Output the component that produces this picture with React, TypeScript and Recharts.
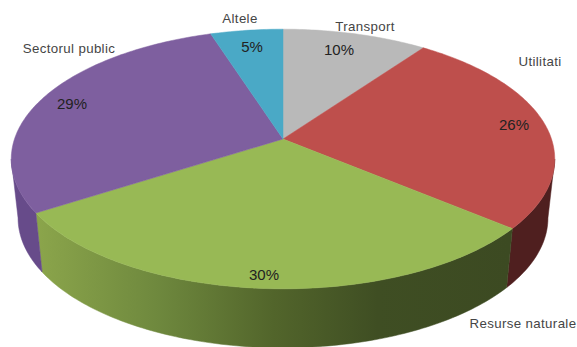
import { Pie, PieChart } from 'recharts';

const sectors = ['Transport', 'Utilitati', 'Resurse naturale', 'Sectorul public', 'Altele'];
const shares = [10, 26, 30, 29, 5];
const topColors = ['#b9b9b9', '#be4f4c', '#98b955', '#7e5f9f', '#4aa9c6'];
const wallColors = ['#8a8a8a', '#4f1f1f', 'url(#greenWall)', '#674b8a', '#38869c'];

// label anchors, same order as sectors: [name x, name y, share x, share y]
const labelSpots = [
  [365, 26, 339, 50],
  [540, 61, 514, 125],
  [523, 323, 264, 275],
  [69, 48, 72, 104],
  [240, 18, 252, 47],
];

const rows = sectors.map((name, i) => ({ name, value: shares[i], fill: topColors[i], wall: wallColors[i] }));

const WIDTH = 577;
const HEIGHT = 347;
const CX = 283;
const CY = 139;
const RADIUS = 268.5;
// camera tilt: y squash and foreshortening of the far rim
const SQUASH = 0.472;
const TILT = 0.154;
// extrusion of the disc, measured from the centre of the projected rim
const DEPTH = 59;
const FOOT_SHRINK = 0.975;
const WALL_FROM = 98.85;
const WALL_TO = 261.15;

// theta is clockwise from twelve o'clock
function rim(cx: number, cy: number, r: number, theta: number) {
  const rad = (theta * Math.PI) / 180;
  const u = Math.sin(rad);
  const v = Math.cos(rad);
  const w = 1 + TILT * v;
  return [cx + (r * u) / w, cy - (r * SQUASH * v) / w];
}

function foot(cx: number, cy: number, r: number, theta: number) {
  const [x, y] = rim(cx, cy, r, theta);
  return [cx + (x - cx) * FOOT_SHRINK, y + DEPTH];
}

function sweep(from: number, to: number) {
  const out: number[] = [];
  const n = Math.max(2, Math.ceil(to - from));
  for (let i = 0; i <= n; i++) out.push(from + ((to - from) * i) / n);
  return out;
}

const toPath = (pts: number[][]) => `M${pts.map((p) => `${p[0].toFixed(2)},${p[1].toFixed(2)}`).join('L')}Z`;

function TopFace(props: any) {
  const { cx, cy, outerRadius, startAngle, endAngle, fill } = props;
  const pts = sweep(90 - startAngle, 90 - endAngle).map((t) => rim(cx, cy, outerRadius, t));
  return <path d={toPath([[cx, cy], ...pts])} fill={fill} stroke={fill} strokeWidth={0.5} />;
}

function SideWall(props: any) {
  const { cx, cy, outerRadius, startAngle, endAngle } = props;
  const from = Math.max(90 - startAngle, WALL_FROM);
  const to = Math.min(90 - endAngle, WALL_TO);
  if (to <= from) return <g />;
  const thetas = sweep(from, to);
  const upper = thetas.map((t) => rim(cx, cy, outerRadius, t));
  const lower = thetas.map((t) => foot(cx, cy, outerRadius, t)).reverse();
  const wall = props.wall ?? props.payload?.wall;
  return <path d={toPath([...upper, ...lower])} fill={wall} stroke={wall} strokeWidth={0.5} />;
}

function SectorLabel(props: any) {
  const { index, name, value } = props;
  const [nx, ny, px, py] = labelSpots[index];
  return (
    <g fontFamily="Liberation Sans, Arial, sans-serif" textAnchor="middle" dominantBaseline="central">
      <text x={nx} y={ny} fontSize={13.3} fill="#454545" letterSpacing={0.35}>{name}</text>
      <text x={px} y={py - 0.5} fontSize={15} fill="#222222">{value}%</text>
    </g>
  );
}

export default function App() {
  return (
    <div style={{ position: 'absolute', left: 0, top: 0, width: WIDTH, height: HEIGHT, background: '#fff', overflow: 'hidden' }}>
      <PieChart width={WIDTH} height={HEIGHT} margin={{ top: 0, right: 0, bottom: 0, left: 0 }}>
        <defs>
          <linearGradient id="greenWall" gradientUnits="userSpaceOnUse" x1={37} y1={0} x2={510} y2={0}>
            <stop offset="0" stopColor="#8ba54b" />
            <stop offset="0.25" stopColor="#6f893e" />
            <stop offset="0.5" stopColor="#52652b" />
            <stop offset="0.72" stopColor="#3f4e23" />
            <stop offset="1" stopColor="#3c4a22" />
          </linearGradient>
        </defs>
        <Pie
          data={rows}
          dataKey="value"
          nameKey="name"
          cx={CX}
          cy={CY}
          outerRadius={RADIUS}
          startAngle={90}
          endAngle={-270}
          stroke="none"
          shape={SideWall}
          activeShape={SideWall}
          inactiveShape={SideWall}
          isAnimationActive={false}
        />
        <Pie
          data={rows}
          dataKey="value"
          nameKey="name"
          cx={CX}
          cy={CY}
          outerRadius={RADIUS}
          startAngle={90}
          endAngle={-270}
          stroke="none"
          shape={TopFace}
          activeShape={TopFace}
          inactiveShape={TopFace}
          label={SectorLabel}
          labelLine={false}
          isAnimationActive={false}
        />
      </PieChart>
    </div>
  );
}
